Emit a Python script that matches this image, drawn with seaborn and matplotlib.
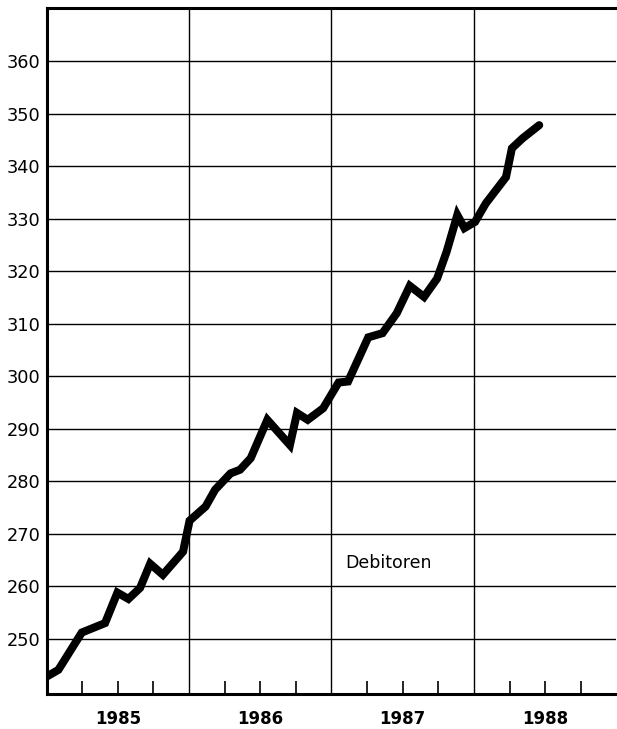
import numpy as np
import pandas as pd
import seaborn as sns
import matplotlib.pyplot as plt

months = [0, 1.0, 2.97, 4.93, 5.97, 6.9, 7.88, 8.73, 9.8, 11.5,
          12.05, 13.4, 14.2, 15.5, 16.3, 17.2, 18.6, 20.5, 21.1, 22.0,
          23.3, 24.6, 25.4, 27.1, 28.3, 29.5, 30.6, 31.8, 32.9, 33.7,
          34.6, 35.2, 36.1, 37.0, 38.7, 39.2, 40.1, 41.5]
debitoren = [242.8, 244.1, 251.2, 253.0, 258.8, 257.6, 259.7, 264.3, 262.2, 266.6,
             272.5, 275.2, 278.4, 281.5, 282.2, 284.4, 291.7, 286.9, 293.0, 291.7,
             293.9, 298.8, 299.0, 307.4, 308.2, 312.0, 317.2, 315.1, 318.6, 323.7,
             330.7, 328.2, 329.4, 332.9, 337.9, 343.4, 345.3, 347.8]

years = ['1985', '1986', '1987', '1988']
year_centers = [6, 18, 30, 42]
year_bounds = [12, 24, 36]
other_quarters = [3, 9, 15, 21, 27, 33, 39, 45]
y_ticks = [250, 260, 270, 280, 290, 300, 310, 320, 330, 340, 350, 360]

sns.set_style('white')
plt.rcParams['font.family'] = ['DejaVu Sans']
plt.rcParams['text.color'] = 'black'
plt.rcParams['xtick.color'] = 'black'
plt.rcParams['ytick.color'] = 'black'

df = pd.DataFrame({'month': months, 'value': debitoren})

fig = plt.figure(figsize=(6.17, 7.29), dpi=100)
ax = fig.add_axes([0.0754, 0.048, 0.9236, 0.941])

sns.lineplot(data=df, x='month', y='value', color='black', linewidth=5.8,
             solid_joinstyle='miter', ax=ax)

ax.set_xlim(0, 48)
ax.set_ylim(239.5, 370.1)

# horizontal grid
ax.set_yticks(y_ticks)
ax.set_yticklabels([str(v) for v in y_ticks], fontsize=12.8)
ax.yaxis.grid(True, color='black', linewidth=1.0)
ax.tick_params(axis='y', left=True, labelleft=True, length=0, pad=4.5,
               labelcolor='black')

# vertical year lines
for b in year_bounds:
    ax.axvline(b, color='black', linewidth=1.0)

# quarter ticks inward; the mid-year ones carry the year labels
ax.set_xticks(year_centers)
ax.set_xticklabels(years, fontsize=12, fontweight='bold')
ax.set_xticks(other_quarters, minor=True)
ax.tick_params(axis='x', which='both', bottom=True, direction='in',
               length=9.5, width=1.2, color='black')
ax.tick_params(axis='x', which='major', labelbottom=True, pad=11.5,
               labelcolor='black')

for side in ['left', 'bottom', 'top']:
    ax.spines[side].set_linewidth(2.2)
    ax.spines[side].set_color('black')
ax.spines['right'].set_visible(False)

ax.text(25.15, 264.5, 'Debitoren', fontsize=12.5, ha='left', va='center',
        color='black')

ax.set_xlabel('')
ax.set_ylabel('')

fig.savefig('out.png', dpi=100)
